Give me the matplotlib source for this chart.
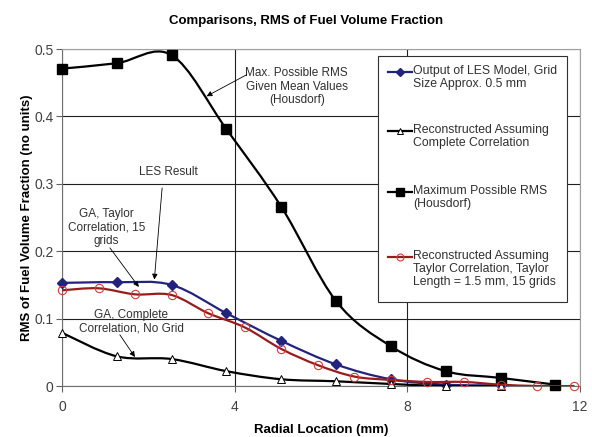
import matplotlib
matplotlib.use("Agg")
import matplotlib.pyplot as plt
import numpy as np
from matplotlib.lines import Line2D
from matplotlib.patches import PathPatch, Rectangle
from matplotlib.path import Path

plt.rcParams["font.family"] = ["Liberation Sans", "DejaVu Sans"]

# radial stations (mm)
r_coarse = [0.0, 1.27, 2.54, 3.81, 5.08, 6.35, 7.62, 8.89, 10.16]
r_housdorf = [0.0, 1.27, 2.54, 3.81, 5.08, 6.35, 7.62, 8.89, 10.16, 11.43]
r_fine = [0.0, 0.847, 1.693, 2.54, 3.387, 4.233, 5.08, 5.927, 6.773, 7.62,
          8.467, 9.313, 10.16, 11.007, 11.853]

les_rms = [0.153, 0.154, 0.150, 0.108, 0.067, 0.032, 0.010, 0.002, 0.001]
complete_rms = [0.079, 0.044, 0.040, 0.022, 0.010, 0.007, 0.003, 0.0, 0.0]
housdorf_rms = [0.471, 0.479, 0.491, 0.381, 0.266, 0.126, 0.059, 0.022, 0.012, 0.002]
taylor_rms = [0.142, 0.145, 0.136, 0.135, 0.108, 0.087, 0.055, 0.031, 0.014,
              0.009, 0.006, 0.006, 0.002, 0.0, 0.0]

legend_labels = [
    "Output of LES Model, Grid\nSize Approx. 0.5 mm",
    "Reconstructed Assuming\nComplete Correlation",
    "Maximum Possible RMS\n(Housdorf)",
    "Reconstructed Assuming\nTaylor Correlation, Taylor\nLength = 1.5 mm, 15 grids",
]

NAVY = "#23237e"
DARKRED = "#981c1c"
LIGHTRED = "#d23c3c"


def smooth_path(x, y):
    """Catmull-Rom style cubic Bezier through the points (like a smoothed line)."""
    pts = np.column_stack([x, y]).astype(float)
    n = len(pts)
    verts = [pts[0]]
    codes = [Path.MOVETO]
    for i in range(n - 1):
        p0 = pts[i - 1] if i > 0 else pts[i]
        p1 = pts[i]
        p2 = pts[i + 1]
        p3 = pts[i + 2] if i + 2 < n else pts[i + 1]
        c1 = p1 + (p2 - p0) / 6.0
        c2 = p2 - (p3 - p1) / 6.0
        verts += [c1, c2, p2]
        codes += [Path.CURVE4] * 3
    return Path(verts, codes)


def add_series(ax, x, y, line_color, lw, z, **marker_kw):
    ax.add_patch(PathPatch(smooth_path(x, y), facecolor="none", edgecolor=line_color,
                           lw=lw, zorder=z, capstyle="round", joinstyle="round"))
    ax.plot(x, y, linestyle="none", zorder=z + 0.5, clip_on=False, **marker_kw)


fig = plt.figure(figsize=(5.92, 4.37), dpi=100)
ax = fig.add_axes([0.1047, 0.1167, 0.875, 0.771])

add_series(ax, r_coarse, les_rms, NAVY, 1.6, 3,
           marker="D", markersize=5.5, color=NAVY)
add_series(ax, r_coarse, complete_rms, "black", 1.6, 4,
           marker="^", markersize=6, markerfacecolor="white",
           markeredgecolor="black", markeredgewidth=0.7)
add_series(ax, r_housdorf, housdorf_rms, "black", 1.6, 5,
           marker="s", markersize=7, color="black")
add_series(ax, r_fine, taylor_rms, DARKRED, 1.6, 6,
           marker="o", markersize=6, markerfacecolor="none",
           markeredgecolor=LIGHTRED, markeredgewidth=0.8)

ax.set_xlim(0, 12)
ax.set_ylim(0, 0.5)
ax.set_xticks([0, 4, 8, 12])
ax.set_yticks([0, 0.1, 0.2, 0.3, 0.4, 0.5])
ax.set_yticklabels(["0", "0.1", "0.2", "0.3", "0.4", "0.5"])
ax.grid(True, color="#202020", linewidth=0.8)
ax.set_axisbelow(True)
ax.tick_params(labelsize=10, labelcolor="#404040", color="#606060",
               length=4, width=0.8, direction="out")
ax.tick_params(axis="y", pad=2)
ax.tick_params(axis="x", pad=6)
for side in ["top", "right"]:
    ax.spines[side].set_color("#a0a0a0")
for side in ["left", "bottom"]:
    ax.spines[side].set_color("#707070")

fig.text(0.517, 0.953, "Comparisons, RMS of Fuel Volume Fraction",
         ha="center", va="center", fontsize=9.5, fontweight="bold")
ax.set_xlabel("Radial Location (mm)", fontsize=9.5, fontweight="bold", labelpad=7)
ax.set_ylabel("RMS of Fuel Volume Fraction (no units)", fontsize=9.5,
              fontweight="bold", labelpad=1)

# callouts
note_kw = dict(ha="center", va="center", fontsize=8.5, color="#303030",
               linespacing=1.15, zorder=8)
arrow_kw = dict(arrowstyle="-|>", color="black", lw=0.6, mutation_scale=8,
                shrinkA=0, shrinkB=0)

ax.text(5.44, 0.444, "Max. Possible RMS\nGiven Mean Values\n(Housdorf)", **note_kw)
ax.annotate("", xy=(3.35, 0.430), xytext=(4.28, 0.462), arrowprops=arrow_kw, zorder=8)

ax.text(2.455, 0.318, "LES Result", **note_kw)
ax.annotate("", xy=(2.14, 0.158), xytext=(2.32, 0.294), arrowprops=arrow_kw, zorder=8)

ax.text(1.035, 0.235, "GA, Taylor\nCorrelation, 15\ngrids", **note_kw)
ax.annotate("", xy=(1.78, 0.147), xytext=(1.11, 0.205), arrowprops=arrow_kw, zorder=8)

ax.text(1.61, 0.095, "GA, Complete\nCorrelation, No Grid", **note_kw)
ax.annotate("", xy=(1.69, 0.043), xytext=(1.34, 0.076), arrowprops=arrow_kw, zorder=8)

# legend box drawn by hand so the sample sits on the first text line
ax.add_patch(Rectangle((0.6106, 0.2484), 0.3637, 0.7308, transform=ax.transAxes,
                       facecolor="white", edgecolor="#303030", lw=0.8, zorder=9))
handles = [
    dict(color=NAVY, marker="D", markersize=4, markerfacecolor=NAVY,
         markeredgecolor=NAVY),
    dict(color="black", marker="^", markersize=5, markerfacecolor="white",
         markeredgecolor="black", markeredgewidth=0.7),
    dict(color="black", marker="s", markersize=6, markerfacecolor="black",
         markeredgecolor="black"),
    dict(color=DARKRED, marker="o", markersize=5, markerfacecolor="none",
         markeredgecolor=LIGHTRED, markeredgewidth=0.8),
]
entry_y = [0.9309, 0.7567, 0.5757, 0.3819]
for y, label, style in zip(entry_y, legend_labels, handles):
    line_style = {k: v for k, v in style.items() if not k.startswith("marker")}
    marker_style = {k: v for k, v in style.items() if k != "color"}
    ax.add_line(Line2D([0.630, 0.6751], [y, y], transform=ax.transAxes, lw=1.6,
                       zorder=10, **line_style))
    ax.add_line(Line2D([0.6525], [y], transform=ax.transAxes, linestyle="none",
                       zorder=11, **marker_style))
    ax.text(0.678, y + 0.022, label, transform=ax.transAxes, ha="left", va="top",
            fontsize=8.8, color="#303030", linespacing=1.12, zorder=10)

fig.savefig("out.png", dpi=100)
